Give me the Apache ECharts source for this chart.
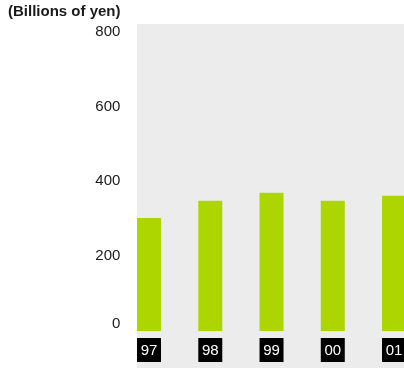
<!DOCTYPE html>
<html>
<head>
<meta charset="utf-8">
<script src="https://cdn.jsdelivr.net/npm/echarts@6/dist/echarts.min.js"></script>
<style>
  html, body { margin: 0; padding: 0; background: #ffffff; }
  #chart { width: 404px; height: 368px; }
</style>
</head>
<body>
<div id="chart"></div>
<script>
// Fiscal years and amounts (billions of yen)
const years = ['97', '98', '99', '00', '01'];
const amounts = [302, 348, 369, 348, 361];
const yTicks = { min: 0, max: 800, step: 200 };
const unitLabel = '(Billions of yen)';

const FONT = '"Liberation Sans", Arial, Helvetica, sans-serif';

const chart = echarts.init(document.getElementById('chart'), null, { renderer: 'canvas' });

chart.setOption({
  animation: false,
  backgroundColor: '#ffffff',
  title: {
    text: unitLabel,
    left: 8,
    top: 4,
    padding: 0,
    textStyle: { fontFamily: FONT, fontSize: 15, fontWeight: 'bold', color: '#1a1a1a' }
  },
  // light grey panel behind the plotting area
  graphic: {
    elements: [{
      type: 'rect',
      z: -10,
      silent: true,
      shape: { x: 137, y: 24, width: 267, height: 344 },
      style: { fill: '#ececec' }
    }]
  },
  // the last category band runs past the right edge of the canvas
  grid: {
    left: 118.4,
    top: 31.5,
    width: 306.25,
    height: 299.5,
    containLabel: false,
    outerBoundsMode: 'none'
  },
  xAxis: {
    type: 'category',
    data: years,
    axisLine: { show: false },
    axisTick: { show: false },
    axisLabel: {
      margin: 7,
      fontFamily: FONT,
      fontSize: 15,
      color: '#ffffff',
      backgroundColor: '#000000',
      width: 24,
      height: 24,
      lineHeight: 25,
      align: 'center',
      padding: 0
    }
  },
  yAxis: {
    type: 'value',
    min: yTicks.min,
    max: yTicks.max,
    interval: yTicks.step,
    axisLine: { show: false },
    axisTick: { show: false },
    splitLine: { show: false },
    axisLabel: {
      margin: -2,
      fontFamily: FONT,
      fontSize: 15,
      color: '#1a1a1a',
      formatter: function (v) { return v === 0 ? '{z|0}' : String(v); },
      rich: {
        z: { fontFamily: FONT, fontSize: 15, color: '#1a1a1a', padding: [0, 0, 14, 0] }
      }
    }
  },
  series: [{
    type: 'bar',
    data: amounts,
    barWidth: 24,
    itemStyle: { color: '#add500' }
  }]
});
</script>
</body>
</html>
